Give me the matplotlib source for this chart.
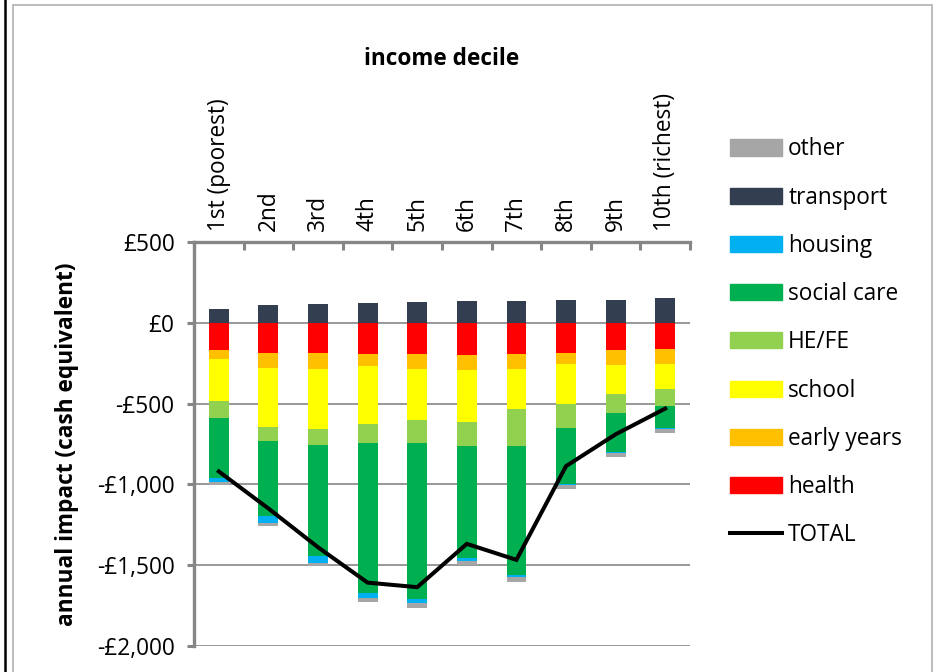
import matplotlib.pyplot as plt
import numpy as np
from matplotlib.patches import Patch, Rectangle
from matplotlib.lines import Line2D

plt.rcParams['font.family'] = ['Open Sans', 'DejaVu Sans']

deciles = ['1st (poorest)', '2nd', '3rd', '4th', '5th', '6th', '7th', '8th', '9th', '10th (richest)']

# annual impact per household, £ (cash equivalent)
transport   = [85, 108, 116, 120, 126, 133, 137, 143, 141, 151]
health      = [-169, -188, -188, -196, -194, -200, -194, -188, -171, -165]
early_years = [-58, -93, -99, -73, -93, -93, -93, -68, -93, -91]
school      = [-259, -366, -368, -358, -315, -321, -248, -248, -178, -155]
he_fe       = [-105, -85, -102, -115, -140, -151, -230, -149, -114, -101]
social_care = [-368, -463, -686, -928, -966, -690, -796, -343, -244, -141]
housing     = [-29, -41, -42, -36, -29, -21, -15, -9, -8, -2]
other       = [-17, -21, -20, -22, -25, -25, -28, -25, -23, -27]

C_TRANSPORT = '#333f50'
C_HEALTH = '#ff0000'
C_EARLY = '#ffc000'
C_SCHOOL = '#ffff00'
C_HEFE = '#92d050'
C_CARE = '#00b050'
C_HOUSING = '#00b0f0'
C_OTHER = '#a6a6a6'
GREY = '#868686'
FS = 16.3

negatives = [
    (health, C_HEALTH),
    (early_years, C_EARLY),
    (school, C_SCHOOL),
    (he_fe, C_HEFE),
    (social_care, C_CARE),
    (housing, C_HOUSING),
    (other, C_OTHER),
]

total = np.array(transport) + sum(np.array(v) for v, _ in negatives)

fig = plt.figure(figsize=(9.35, 6.72), dpi=100)
ax = fig.add_axes([0.2075, 0.0387, 0.5305, 0.6012])

x = np.arange(len(deciles))
width = 0.4

ax.bar(x, transport, width, color=C_TRANSPORT, zorder=3)
bottom = np.zeros(len(deciles))
for vals, col in negatives:
    ax.bar(x, vals, width, bottom=bottom, color=col, zorder=3)
    bottom += np.array(vals)

ax.plot(x, total, color='black', lw=2.9, zorder=4, solid_joinstyle='miter')

ax.set_xlim(-0.5, len(deciles) - 0.5)
ax.set_ylim(-2000, 500)
ax.set_yticks(np.arange(-2000, 501, 500))
ax.yaxis.set_major_formatter(lambda v, pos: ('-' if v < 0 else '') + '£{:,.0f}'.format(abs(v)))
ax.grid(axis='y', color=GREY, lw=1.2, zorder=0)

# category axis sits on top
ax.xaxis.tick_top()
ax.xaxis.set_label_position('top')
ax.set_xticks(x)
ax.set_xticklabels(deciles, rotation=90, fontsize=FS)
ax.set_xticks(np.arange(-0.5, len(deciles)), minor=True)
ax.tick_params(axis='x', which='major', length=0, pad=8)
ax.tick_params(axis='x', which='minor', direction='in', length=6, width=2.2, color=GREY)
ax.tick_params(axis='y', direction='out', length=5, width=2.2, color=GREY, labelsize=FS, pad=9)
ax.set_xlabel('income decile', fontsize=FS, fontweight='bold', labelpad=20)
ax.set_ylabel('annual impact (cash equivalent)', fontsize=FS, fontweight='bold', labelpad=13)

for side in ['right', 'bottom']:
    ax.spines[side].set_visible(False)
for side in ['left', 'top']:
    ax.spines[side].set_color(GREY)
    ax.spines[side].set_linewidth(2.4)

handles = [
    Patch(color=C_OTHER, label='other'),
    Patch(color=C_TRANSPORT, label='transport'),
    Patch(color=C_HOUSING, label='housing'),
    Patch(color=C_CARE, label='social care'),
    Patch(color=C_HEFE, label='HE/FE'),
    Patch(color=C_SCHOOL, label='school'),
    Patch(color=C_EARLY, label='early years'),
    Patch(color=C_HEALTH, label='health'),
    Line2D([], [], color='black', lw=2.9, label='TOTAL'),
]
fig.legend(handles=handles, loc='upper left', bbox_to_anchor=(0.7715, 0.809),
           frameon=False, fontsize=FS, handlelength=2.3, handleheight=0.72,
           handletextpad=0.25, labelspacing=1.07, borderaxespad=0)

# chart border
fig.add_artist(Rectangle((13 / 935, -0.01), 919 / 935, 1 - 5 / 672 + 0.01,
                         transform=fig.transFigure, fill=False, edgecolor='#b0b0b0', lw=1.2))
fig.add_artist(Line2D([5 / 935, 5 / 935], [0, 1], transform=fig.transFigure, color='black', lw=1.8))

fig.savefig('out.png', dpi=100)
